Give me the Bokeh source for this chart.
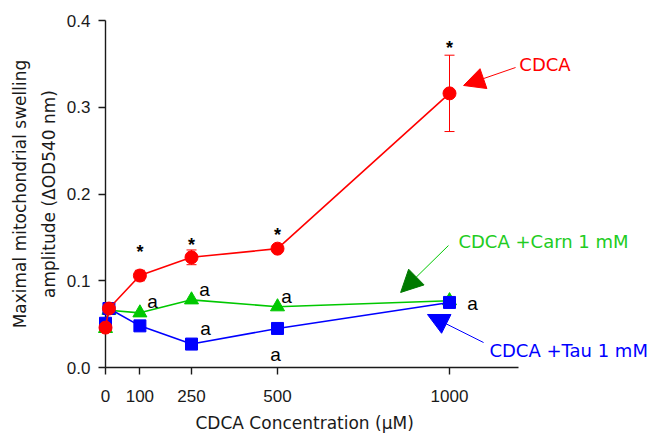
from bokeh.plotting import figure
from bokeh.models import (Range1d, FixedTicker, Whisker, TeeHead, Arrow, NormalHead,
                          Label, ColumnDataSource, PrintfTickFormatter, Title)
from bokeh.core.properties import value
from bokeh.embed import file_html
from bokeh.resources import INLINE

# ---- data ----
conc = [0, 10, 100, 250, 500, 1000]
cdca = [0.046, 0.068, 0.106, 0.127, 0.137, 0.316]
cdca_err = [0.0, 0.0, 0.006, 0.0085, 0.003, 0.044]
carn = [0.045, 0.066, 0.063, 0.078, 0.070, 0.077]
tau = [0.051, 0.068, 0.048, 0.027, 0.045, 0.075]

x_ticks = [0, 100, 250, 500, 1000]
y_ticks = [0.0, 0.1, 0.2, 0.3, 0.4]

star_x = [100, 250, 500, 1000]
star_y = [0.135, 0.144, 0.155, 0.371]

a_x = [137, 288, 291, 526, 494, 1067]
a_y = [0.077, 0.091, 0.046, 0.083, 0.016, 0.075]

RED = "#FF0000"
GREEN = "#00C800"
DGREEN = "#007A00"
BLUE = "#0000FF"
AX = "#1a1a1a"
FONT = "Liberation Sans"
LFONT = "DejaVu Sans"

W, H = 668, 447
LEFT, TOP, BOTTOM = 105, 20, 80
X_END = (W - LEFT) / 0.344

p = figure(width=W, height=H,
           x_range=Range1d(0, X_END), y_range=Range1d(0, 0.4),
           output_backend="svg", toolbar_location=None,
           min_border_left=LEFT, min_border_right=0,
           min_border_top=TOP, min_border_bottom=BOTTOM)
p.grid.visible = False
p.outline_line_color = None
p.background_fill_color = "white"
p.border_fill_color = "white"

for ax in (p.xaxis[0], p.yaxis[0]):
    ax.axis_line_color = AX
    ax.axis_line_width = 1.4
    ax.major_tick_line_color = AX
    ax.major_tick_line_width = 1.4
    ax.major_tick_out = 7
    ax.major_tick_in = 0
    ax.minor_tick_line_color = None
    ax.major_label_text_font = FONT
    ax.major_label_text_font_size = "17px"
    ax.major_label_text_color = AX
    ax.axis_label_text_font = LFONT
    ax.axis_label_text_font_size = "17px"
    ax.axis_label_text_font_style = "normal"
    ax.axis_label_text_color = AX

p.xaxis[0].ticker = FixedTicker(ticks=x_ticks)
p.xaxis[0].bounds = (0, 1200)
p.xaxis[0].major_label_standoff = 15

p.add_layout(Title(text="CDCA Concentration (μM)", align="left", offset=90,
                   text_font=LFONT, text_font_size="17px", text_font_style="normal",
                   text_color=AX, standoff=13), "below")

p.yaxis[0].ticker = FixedTicker(ticks=y_ticks)
p.yaxis[0].formatter = PrintfTickFormatter(format="%.1f")
p.yaxis[0].major_label_standoff = 8
p.yaxis[0].axis_label = "Maximal mitochondrial swelling\namplitude (ΔOD540 nm)"
p.yaxis[0].axis_label_standoff = 5
p.yaxis[0].axis_label_text_line_height = 1.45

src = ColumnDataSource(dict(x=conc, cdca=cdca, carn=carn, tau=tau,
                            lo=[c - e for c, e in zip(cdca, cdca_err)],
                            hi=[c + e for c, e in zip(cdca, cdca_err)]))

# green (bottom), blue, red (top)
p.line("x", "carn", source=src, line_color=GREEN, line_width=1.6, level="overlay")
p.scatter("x", "carn", source=src, marker="triangle", size=14,
          fill_color=GREEN, line_color=GREEN, level="overlay")
p.line("x", "tau", source=src, line_color=BLUE, line_width=1.6, level="overlay")
p.scatter("x", "tau", source=src, marker="square", size=12,
          fill_color=BLUE, line_color=BLUE, level="overlay")

w = Whisker(source=src, base="x", lower="lo", upper="hi", line_color=RED, line_width=1,
            upper_head=TeeHead(size=10, line_color=RED, line_width=1),
            lower_head=TeeHead(size=10, line_color=RED, line_width=1), level="overlay")
p.add_layout(w)
p.line("x", "cdca", source=src, line_color=RED, line_width=1.6, level="overlay")
p.scatter("x", "cdca", source=src, marker="circle", size=13,
          fill_color=RED, line_color=RED, level="overlay")

p.text(x=star_x, y=star_y, text=["*"] * len(star_x), text_font=value(FONT),
       text_font_size="18px", text_font_style="bold", text_color="black",
       text_align="center", text_baseline="middle", y_offset=2, level="overlay")
p.text(x=a_x, y=a_y, text=["a"] * len(a_x), text_font=value(FONT),
       text_font_size="19px", text_color="black",
       text_align="center", text_baseline="middle", y_offset=1, level="overlay")

# arrows + labels
p.add_layout(Arrow(x_start=1192, y_start=0.3458, x_end=1041, y_end=0.3251,
                   line_color=RED, line_width=1,
                   end=NormalHead(size=21, fill_color=RED, line_color=RED)))
p.add_layout(Arrow(x_start=997, y_start=0.1406, x_end=858, y_end=0.0865,
                   line_color=GREEN, line_width=1,
                   end=NormalHead(size=22, fill_color=DGREEN, line_color=DGREEN)))
p.add_layout(Arrow(x_start=1099, y_start=0.0288, x_end=936, y_end=0.0611,
                   line_color=BLUE, line_width=1,
                   end=NormalHead(size=21, fill_color=BLUE, line_color=BLUE)))

p.add_layout(Label(x=1203, y=0.349, text="CDCA", text_color=RED, text_font=LFONT,
                   text_font_size="18px", text_baseline="middle"))
p.add_layout(Label(x=1026, y=0.1447, text="CDCA +Carn 1 mM", text_color="#22CC22",
                   text_font=LFONT, text_font_size="18px", text_baseline="middle"))
p.add_layout(Label(x=1116, y=0.0196, text="CDCA +Tau 1 mM", text_color=BLUE,
                   text_font=LFONT, text_font_size="18px", text_baseline="middle"))

open("out.html", "w").write(file_html(p, INLINE))
